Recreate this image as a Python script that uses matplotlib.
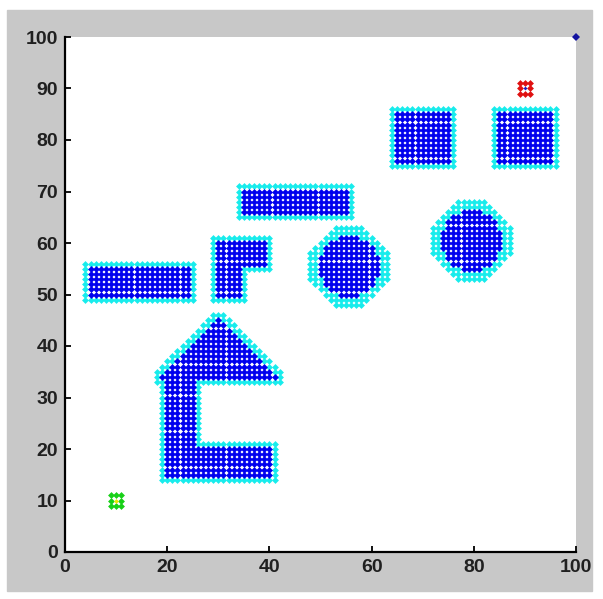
import numpy as np
import matplotlib.pyplot as plt
from matplotlib.patches import Rectangle

# blue obstacle rectangles (inclusive cell ranges)
rect_x0 = [5, 30, 30, 35, 65, 85, 20, 20]
rect_x1 = [24, 39, 34, 55, 75, 95, 25, 40]
rect_y0 = [50, 56, 50, 66, 76, 76, 15, 15]
rect_y1 = [55, 60, 55, 70, 85, 85, 33, 20]

# roof of the house-shaped obstacle
roof_apex = (30, 45)
roof_base_y = 34

# round obstacles and their octagonal safety zones
circle_cx = [55.5, 79.5]
circle_cy = [55.5, 60.5]
circle_r = [6.0, 5.8]
circle_pad = [7.5, 7.5]

start = (10, 10)
goal = (90, 90)
corner = (100, 100)

X, Y = np.meshgrid(np.arange(101), np.arange(101))

poly = np.zeros(X.shape, bool)
for x0, x1, y0, y1 in zip(rect_x0, rect_x1, rect_y0, rect_y1):
    poly |= (X >= x0) & (X <= x1) & (Y >= y0) & (Y <= y1)
ax_, ay_ = roof_apex
poly |= (Y >= roof_base_y) & (np.abs(X - ax_) <= ay_ - Y)


def grow(m):
    out = m.copy()
    for dx in (-1, 0, 1):
        for dy in (-1, 0, 1):
            out |= np.roll(np.roll(m, dy, 0), dx, 1)
    return out


circ = np.zeros(X.shape, bool)
octa = np.zeros(X.shape, bool)
for cx, cy, r, a in zip(circle_cx, circle_cy, circle_r, circle_pad):
    dx, dy = np.abs(X - cx), np.abs(Y - cy)
    circ |= dx**2 + dy**2 <= r**2
    octa |= (dx <= a) & (dy <= a) & (dx + dy <= a * np.sqrt(2))

blue = poly | circ
cyan = (grow(poly) | octa) & ~blue

sx, sy = start
gx, gy = goal
ring = (np.abs(X - sx) <= 1) & (np.abs(Y - sy) <= 1) & ~((X == sx) & (Y == sy))
gring = (np.abs(X - gx) <= 1) & (np.abs(Y - gy) <= 1) & ~((X == gx) & (Y == gy))

fig = plt.figure(figsize=(6.03, 5.99), dpi=100, facecolor='white')
fig.patches.append(Rectangle((7 / 603, 8 / 599), 585 / 603, 581 / 599,
                             transform=fig.transFigure, color='#c8c8c8', zorder=-10))
ax = fig.add_axes([65 / 603, 47 / 599, 511 / 603, 515 / 599])
ax.set_facecolor('white')

ms = 3.5
ax.plot(X[cyan], Y[cyan], ls='none', marker='D', ms=ms, mew=0, color='#18ecec')
ax.plot(X[blue], Y[blue], ls='none', marker='D', ms=ms, mew=0, color='#0000ee')
ax.plot(X[ring], Y[ring], ls='none', marker='D', ms=ms, mew=0, color='#18d018')
ax.plot([sx], [sy], ls='none', marker='D', ms=2.5, mew=0, color='#e8e800')
ax.plot(X[gring], Y[gring], ls='none', marker='D', ms=ms, mew=0, color='#e01010')
ax.plot([gx], [gy], ls='none', marker='D', ms=2.0, mew=0, color='#2020c0')
ax.plot([corner[0]], [corner[1]], ls='none', marker='D', ms=3.8, mew=0,
        color='#1414a0', clip_on=False, zorder=5)

ax.set_xlim(0, 100)
ax.set_ylim(0, 100)
ax.set_xticks(range(0, 101, 20))
ax.set_yticks(range(0, 101, 10))
for s in ('top', 'right'):
    ax.spines[s].set_visible(False)
for s in ('left', 'bottom'):
    ax.spines[s].set_linewidth(1.6)
ax.tick_params(direction='in', length=4, width=1.3, labelsize=14, pad=5)
for lab in ax.get_xticklabels() + ax.get_yticklabels():
    lab.set_family('Liberation Sans')
    lab.set_fontweight('bold')
    lab.set_color('#202020')

fig.savefig('out.png', dpi=100)
